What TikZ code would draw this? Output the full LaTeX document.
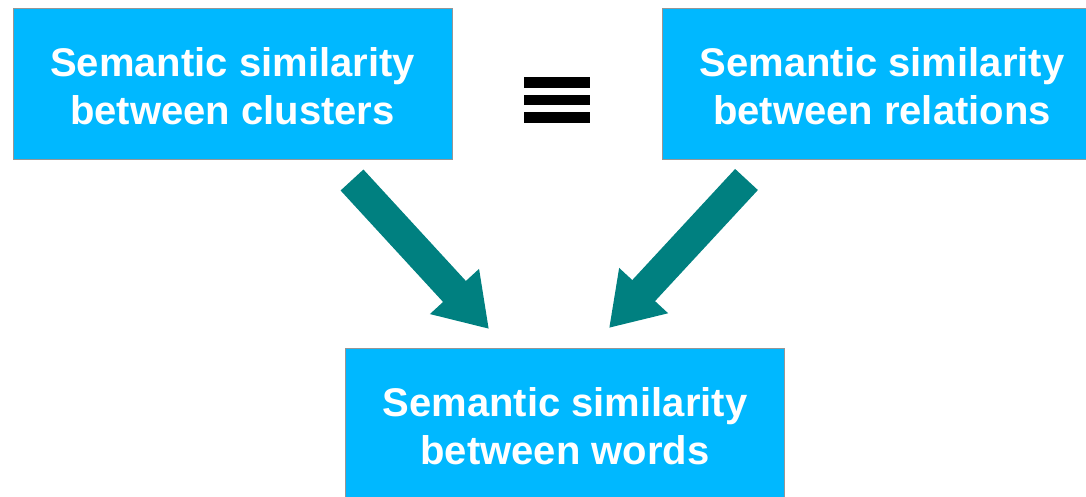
\documentclass[tikz,border=0pt]{standalone}
\usepackage{fontspec}
\setmainfont{Liberation Sans}
\usetikzlibrary{arrows.meta}
\definecolor{boxblue}{RGB}{0,184,255}
\definecolor{boxline}{RGB}{150,150,150}
\definecolor{arrowteal}{RGB}{0,128,128}
\newcommand{\topstrut}{\rule{0pt}{33.5pt}}
\tikzset{
   simbox/.style={draw=boxline,line width=1pt,fill=boxblue,text=white,
      minimum width=439pt,minimum height=151pt,align=center,
      font=\bfseries\fontsize{40}{48}\selectfont},
   bigarrow/.style={arrowteal,line width=31pt,
      -{Triangle[width=63pt,length=51pt]}},
}
\begin{document}
\begin{tikzpicture}[x=1pt,y=-1pt]
   \useasboundingbox (0,0) rectangle (1086,496);
   \clip (0,0) rectangle (1086,496);

   \node[simbox] (clusters) at (232.5,83.5) {\topstrut Semantic similarity\\between clusters};
   \node[simbox] (relations) at (882,83.5) {\topstrut Semantic similarity\\between relations};
   \node[simbox] (words) at (565,423.5) {\topstrut Semantic similarity\\between words};

   % equivalence sign
   \foreach \y in {77,94.5,112}
      \fill (524,\y) rectangle ++(66,10.5);

   \coordinate (c1) at (352,180);
   \coordinate (w1) at (489,329);
   \coordinate (r1) at (746.5,179.5);
   \coordinate (w2) at (609,328);
   \draw[bigarrow] (c1) -- (w1);
   \draw[bigarrow] (r1) -- (w2);
\end{tikzpicture}
\end{document}
